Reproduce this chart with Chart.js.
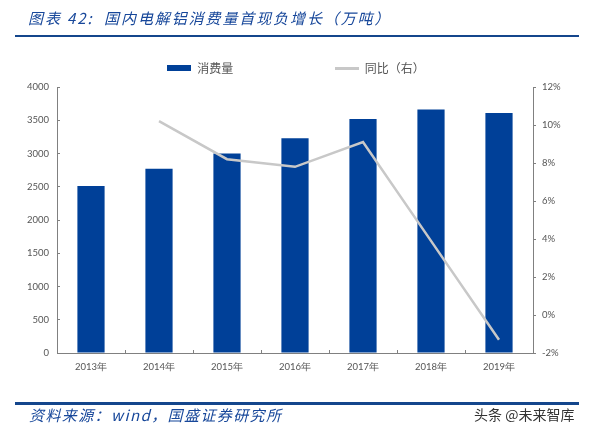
<!DOCTYPE html>
<html>
<head>
<meta charset="utf-8">
<script src="https://cdn.jsdelivr.net/npm/chart.js@4"></script>
<style>
html, body { margin: 0; padding: 0; background: #fff; }
#page { position: relative; width: 592px; height: 432px; overflow: hidden; }
#page div { position: absolute; }
canvas { position: absolute; left: 0; top: 0; }
.heading { font-family: "Noto Sans CJK SC", sans-serif; font-style: italic; color: #17479a; white-space: nowrap; }
.rule { background: #14468c; left: 15px; width: 564px; }
</style>
</head>
<body>
<div id="page">
    <canvas id="chart" width="592" height="432"></canvas>
    <div class="heading" style="left:28px;top:7px;font-size:15px;letter-spacing:1.9px;">图表 42:&nbsp; 国内电解铝消费量首现负增长（万吨）</div>
    <div class="rule" style="top:35px;height:2px;"></div>
    <div class="rule" style="top:402px;height:2.5px;"></div>
    <div class="heading" style="left:29px;top:404px;font-size:15px;letter-spacing:1.4px;">资料来源：wind，国盛证券研究所</div>
    <div style="left:474px;top:404px;font:14px 'Noto Sans CJK SC',sans-serif;color:#333;white-space:nowrap;">头条 @未来智库</div>
</div>
<script>
// Values
const years = ['2013年', '2014年', '2015年', '2016年', '2017年', '2018年', '2019年'];
const consumption = [2510, 2770, 3000, 3230, 3520, 3660, 3610];
const yoy = [null, 10.2, 8.2, 7.8, 9.1, 3.9, -1.3];
const leftTicks = [0, 500, 1000, 1500, 2000, 2500, 3000, 3500, 4000];

const axisColor = '#808080';
const labelColor = '#555';
const labelFont = { family: 'Lato', size: 9.5 };
const barColor = '#004098';
const lineColor = '#c8c8c8';

// Legend swatches: the bar one is thick, the line one thin
function swatch(height, color) {
    const c = document.createElement('canvas');
    c.width = 24;
    c.height = height;
    const g = c.getContext('2d');
    g.fillStyle = color;
    g.fillRect(0, 0, 24, height);
    return c;
}

// Nudge the legend up without moving the plot area
const legendNudge = {
    id: 'legendNudge',
    afterLayout(chart) { chart.legend.top -= 3; }
};

new Chart(document.getElementById('chart').getContext('2d'), {
    type: 'bar',
    plugins: [legendNudge],
    data: {
        labels: years,
        datasets: [
            {
                type: 'line',
                label: '同比（右）',
                data: yoy,
                yAxisID: 'right',
                borderColor: lineColor,
                backgroundColor: lineColor,
                borderWidth: 2.5,
                pointRadius: 0,
                tension: 0,
                order: 1
            },
            {
                label: '消费量',
                data: consumption,
                yAxisID: 'left',
                backgroundColor: barColor,
                barPercentage: 0.4,
                categoryPercentage: 1,
                order: 2
            }
        ]
    },
    options: {
        responsive: false,
        animation: false,
        layout: { padding: { top: 50 } },
        plugins: {
            legend: {
                display: true,
                position: 'top',
                labels: {
                    usePointStyle: true,
                    pointStyleWidth: 24,
                    boxHeight: 7,
                    padding: 15,
                    color: labelColor,
                    font: { family: 'Noto Sans CJK SC', size: 12 },
                    generateLabels() {
                        return [
                            { text: '消费量\u3000\u3000\u3000\u3000\u3000\u3000\u3000\u2009', pointStyle: swatch(6, barColor), lineWidth: 0, fontColor: labelColor },
                            { text: '同比（右）', pointStyle: swatch(3, lineColor), lineWidth: 0, fontColor: labelColor }
                        ];
                    }
                }
            },
            tooltip: { enabled: false }
        },
        scales: {
            x: {
                grid: { display: true, drawOnChartArea: false, tickLength: -3, color: axisColor },
                border: { color: axisColor },
                ticks: { color: labelColor, font: labelFont, maxRotation: 0, padding: 11 },
                afterFit(axis) { axis.height = 79; }
            },
            left: {
                position: 'left',
                min: 0,
                max: 4000,
                afterBuildTicks(axis) { axis.ticks = leftTicks.map(v => ({ value: v })); },
                grid: { drawOnChartArea: false, tickLength: -3, color: axisColor },
                border: { color: axisColor },
                ticks: { color: labelColor, font: labelFont, padding: 11, callback: v => String(v) },
                afterFit(axis) { axis.width = 57; }
            },
            right: {
                position: 'right',
                min: -2,
                max: 12,
                grid: { drawOnChartArea: false, tickLength: 3, color: axisColor },
                border: { color: axisColor },
                ticks: { color: labelColor, font: labelFont, stepSize: 2, padding: 6, callback: v => v + '%' },
                afterFit(axis) { axis.width = 59; }
            }
        }
    }
});
</script>
</body>
</html>
